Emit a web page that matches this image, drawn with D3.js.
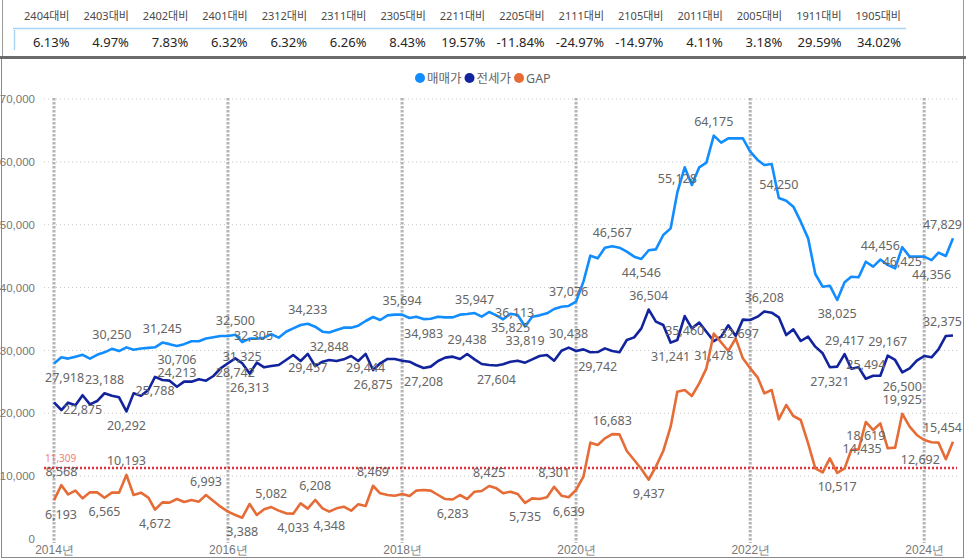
<!DOCTYPE html>
<html><head><meta charset="utf-8">
<script src="https://cdn.jsdelivr.net/npm/d3@7"></script>
<style>
html,body{margin:0;padding:0;background:#fff;}
svg{display:block;font-family:"Segoe UI","Noto Sans","Noto Sans CJK KR",sans-serif;}
</style></head><body>
<svg id="chart" width="966" height="560"></svg>
<script>
// ---------- data ----------
const tableHeaders = ["2404대비","2403대비","2402대비","2401대비","2312대비","2311대비","2305대비","2211대비","2205대비","2111대비","2105대비","2011대비","2005대비","1911대비","1905대비"];
const tableValues = [6.13,4.97,7.83,6.32,6.32,6.26,8.43,19.57,-11.84,-24.97,-14.97,4.11,3.18,29.59,34.02];

const seriesNames = ["매매가","전세가","GAP"];
const firstYear = 2014, firstMonth = 0; // monthly from 2014-01

const salePrice = [
27918,28900,28700,29000,29300,28700,29300,29700,30250,29900,30485,30100,
30300,30400,30500,31245,31000,30706,31000,31450,31450,31900,32100,32300,
32305,32500,31325,31880,31870,32030,32602,32030,32980,33510,34040,34233,
33780,32980,32848,33250,33620,33620,33940,34680,35320,34840,35580,35690,
35694,35160,35370,34983,35050,35370,35260,35260,35690,35800,35947,35370,
36113,35580,34950,35825,35640,33819,35370,35580,35900,36590,36960,37076,
37760,40940,45075,44650,46350,46567,46350,45710,44920,44546,45941,46080,
48360,49420,55128,59130,56320,59130,59870,64175,63050,63740,63740,63740,
61620,60300,59500,59660,54250,53820,52870,50480,47830,42160,40140,40300,
38025,40830,41730,41630,44113,43330,44456,43602,43060,46425,44920,44920,
44920,44356,45550,45020,47829];

const jeonsePrice = [
21725,20520,21690,21265,22875,21420,21950,23188,22800,22540,20292,23170,
22800,23700,25788,25300,25190,24213,25030,25030,25400,25190,25930,27150,
27955,28742,27950,26313,28050,27310,27520,27680,28480,29270,28320,29457,
27520,28210,28480,28320,28580,29110,28320,29444,26875,27950,28640,28640,
28370,28210,27680,27208,27420,28320,28850,29010,28640,29438,28580,27840,
27688,27604,27790,28210,28370,28050,28580,29110,29270,28370,29960,30438,
29910,30170,29700,29742,30330,29910,29700,31660,32080,33510,36504,34580,
34040,31241,31660,35460,33510,34420,32980,31478,32190,34000,32300,34900,
34840,35370,36208,36000,35260,32450,33350,31500,32190,30600,29540,27321,
27420,29417,27100,27310,25494,25980,25980,29167,28480,26500,27150,28370,
29110,28900,30170,32300,32375];

const gapValues = [
6193,8568,7100,7690,6470,7420,7420,6565,7370,7370,10193,7000,
7370,6580,4672,5830,5780,6360,5890,6200,5940,6993,6050,5140,
4350,3820,3388,5570,3820,4720,5082,4510,4083,4033,5670,4830,
6208,4880,4348,4880,5140,4510,5515,5250,8469,7265,7000,6890,
7160,6840,7690,7800,7690,7000,6360,6283,7000,6360,7530,7640,
8425,8060,7265,7530,7160,5735,6470,6360,6630,8301,6890,6639,
7800,9920,15330,14950,16010,16683,16650,14000,12570,11140,9437,11510,
14000,17870,23440,23700,22750,24765,27150,32697,31290,29910,31920,28740,
27150,25720,23170,23700,19040,21320,19570,18930,15220,11240,10610,12830,
10517,11240,14160,14265,18619,17340,18400,14435,14530,19925,17870,16550,
15750,15380,15330,12692,15454];

const gapAverage = 11309;
const yTicks = [0,10000,20000,30000,40000,50000,60000,70000];
const xTickYears = [2014,2016,2018,2020,2022,2024];

// labelled points: [series index, point index, placement]
const labelSpecs = [
 [0,0,"below"],[0,8,"above"],[0,15,"above"],[0,17,"below"],[0,24,"right"],[0,25,"above"],[0,26,"below"],
 [0,35,"above"],[0,38,"below"],[0,48,"above"],[0,51,"below"],[0,58,"above"],[0,60,"right"],[0,63,"below"],
 [0,65,"below"],[0,71,"above"],[0,77,"above"],[0,81,"below"],[0,86,"above"],[0,91,"above"],[0,100,"above"],
 [0,108,"below"],[0,114,"above"],[0,117,"below"],[0,121,"below"],[0,124,"above"],
 [1,4,"below"],[1,7,"above"],[1,10,"below"],[1,14,"below"],[1,17,"above"],[1,25,"below"],[1,27,"below"],
 [1,35,"below"],[1,43,"below"],[1,44,"below"],[1,51,"below"],[1,57,"above"],[1,61,"below"],[1,71,"above"],
 [1,75,"below"],[1,82,"above"],[1,85,"below"],[1,87,"below"],[1,91,"below"],[1,98,"above"],[1,107,"below"],
 [1,109,"above"],[1,112,"above"],[1,115,"above"],[1,117,"below"],[1,124,"above"],
 [2,0,"below"],[2,1,"above"],[2,7,"below"],[2,10,"above"],[2,14,"below"],[2,21,"above"],[2,26,"below"],
 [2,30,"above"],[2,33,"below"],[2,36,"above"],[2,38,"below"],[2,44,"above"],[2,55,"below"],[2,60,"above"],
 [2,65,"below"],[2,69,"above"],[2,71,"below"],[2,77,"above"],[2,82,"below"],[2,91,"right"],[2,108,"below"],
 [2,112,"below"],[2,115,"left"],[2,117,"above"],[2,123,"left"],[2,124,"above"]
];

// ---------- drawing ----------
const svg = d3.select("#chart");
const colors = ["#118DFF","#12239E","#E66C37"];
const series = [salePrice, jeonsePrice, gapValues];
const dates = d3.range(salePrice.length).map(i => new Date(firstYear, firstMonth + i, 1));

// top table
const tbl = svg.append("g");
tbl.append("line").attr("x1",2.5).attr("x2",2.5).attr("y1",0).attr("y2",57).attr("stroke","#9a9a9a").attr("stroke-width",1);
tbl.append("line").attr("x1",963.5).attr("x2",963.5).attr("y1",0).attr("y2",57).attr("stroke","#9a9a9a").attr("stroke-width",1);
const colX = d3.scaleLinear().domain([0, tableHeaders.length-1]).range([69.5, 901]);
tbl.append("line").attr("x1",13).attr("x2",906).attr("y1",28.5).attr("y2",28.5).attr("stroke","#a8d4f5").attr("stroke-width",1.5);
tbl.append("line").attr("x1",14.5).attr("x2",14.5).attr("y1",30).attr("y2",50).attr("stroke","#a8d4f5").attr("stroke-width",1.5);
tbl.selectAll("text.h").data(tableHeaders).join("text").attr("class","h")
  .attr("x",(d,i)=>colX(i)).attr("y",15).attr("text-anchor","end").attr("dominant-baseline","central")
  .attr("font-size",11).attr("fill","#4a4a4a").text(d=>d);
tbl.selectAll("text.v").data(tableValues).join("text").attr("class","v")
  .attr("x",(d,i)=>colX(i)).attr("y",41.5).attr("text-anchor","end").attr("dominant-baseline","central")
  .attr("font-size",13).attr("fill","#252423").text(d=>d.toFixed(2)+"%");
tbl.append("rect").attr("x",0).attr("y",56).attr("width",966).attr("height",3).attr("fill","#6b6b6b");

// chart panel border
svg.append("line").attr("x1",1.5).attr("x2",1.5).attr("y1",59).attr("y2",557).attr("stroke","#8a8a8a");
svg.append("line").attr("x1",963.5).attr("x2",963.5).attr("y1",59).attr("y2",557).attr("stroke","#8a8a8a");
svg.append("line").attr("x1",1).attr("x2",964).attr("y1",557.5).attr("y2",557.5).attr("stroke","#8a8a8a");

// scales
const x = d3.scaleTime().domain([dates[0], dates[dates.length-1]]).range([54, 953]);
const y = d3.scaleLinear().domain([0, 70000]).range([539, 99]);
const plotL = 44, plotR = 957;

// horizontal grid
svg.append("g").selectAll("line").data(yTicks.slice(1)).join("line")
  .attr("x1",plotL).attr("x2",plotR).attr("y1",d=>y(d)).attr("y2",d=>y(d))
  .attr("stroke","#c8c8c8").attr("stroke-width",1).attr("stroke-dasharray","1,3");

// y axis labels
const yAxis = d3.axisLeft(y).tickValues(yTicks).tickSize(0).tickPadding(0).tickFormat(d3.format(","));
const yg = svg.append("g").attr("transform","translate(35,0)").call(yAxis);
yg.select(".domain").remove();
yg.selectAll("text").attr("font-size",11.5).attr("fill","#777").attr("font-family",null);

// vertical year lines
const yearDates = xTickYears.map(yr => new Date(yr,0,1));
svg.append("g").selectAll("line").data(yearDates).join("line")
  .attr("x1",d=>x(d)).attr("x2",d=>x(d)).attr("y1",98).attr("y2",543)
  .attr("stroke","#b4b4b4").attr("stroke-width",3).attr("stroke-dasharray","2.5,1.5");

// x axis labels
const xAxis = d3.axisBottom(x).tickValues(yearDates).tickSize(0).tickPadding(0).tickFormat(d => d.getFullYear()+"년");
const xg = svg.append("g").attr("transform","translate(0,550)").call(xAxis);
xg.select(".domain").remove();
xg.selectAll("text").attr("font-size",12).attr("fill","#777").attr("font-family",null).attr("dy","0.32em");

// average line
svg.append("line").attr("x1",plotL).attr("x2",plotR).attr("y1",y(gapAverage)).attr("y2",y(gapAverage))
  .attr("stroke","#e0313c").attr("stroke-width",2.5).attr("stroke-dasharray","2,2");
svg.append("text").attr("x",45).attr("y",y(gapAverage)-10).attr("dominant-baseline","central")
  .attr("font-size",10).attr("fill","#ee7f73").text(d3.format(",")(gapAverage));

// lines
const line = d3.line().x((d,i)=>x(dates[i])).y(d=>y(d));
series.forEach((s,k)=>{
  svg.append("path").datum(s).attr("d",line).attr("fill","none")
    .attr("stroke",colors[k]).attr("stroke-width",2.6).attr("stroke-linejoin","round");
});

// data labels
const lg = svg.append("g");
labelSpecs.forEach(([k,i,pos])=>{
  const v = series[k][i];
  const px = x(dates[i]), py = y(v);
  const t = lg.append("text").attr("font-size",12.5).attr("fill","#666")
    .attr("dominant-baseline","central").attr("text-anchor","middle").text(d3.format(",")(v));
  const w = t.node().getComputedTextLength();
  let cx = px, cy = py;
  if (pos==="above") cy = py - 14;
  else if (pos==="below") cy = py + 14;
  else if (pos==="left") cx = px - w/2 - 6;
  else if (pos==="right") cx = px + w/2 + 6;
  cx = Math.max(45 + w/2, Math.min(962 - w/2, cx));
  t.attr("x",cx).attr("y",cy);
});

// legend
const legend = svg.append("g").attr("transform","translate(415,78)");
let lx = 0;
seriesNames.forEach((n,k)=>{
  legend.append("circle").attr("cx",lx+5).attr("cy",0).attr("r",5).attr("fill",colors[k]);
  const t = legend.append("text").attr("x",lx+12).attr("y",0).attr("dominant-baseline","central")
    .attr("font-size",12.5).attr("fill","#666").text(n);
  lx += 12 + t.node().getComputedTextLength() + 3;
});
</script>
</body></html>
